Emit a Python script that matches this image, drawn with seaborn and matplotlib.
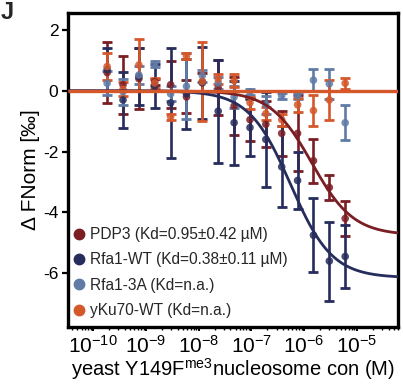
import numpy as np
import pandas as pd
import matplotlib
matplotlib.use("Agg")
import matplotlib.pyplot as plt
import seaborn as sns
from matplotlib.lines import Line2D
from matplotlib.ticker import FixedLocator, LogLocator, LogFormatterSciNotation, NullFormatter

# ---------------- data ----------------
conc_M = [1.83e-10, 3.66e-10, 7.32e-10, 1.46e-9, 2.93e-9, 5.86e-9, 1.17e-8, 2.34e-8,
          4.69e-8, 9.38e-8, 1.875e-7, 3.75e-7, 7.5e-7, 1.5e-6, 3.0e-6, 6.0e-6]
xtick_values = [1e-10, 1e-9, 1e-8, 1e-7, 1e-6, 1e-5]

series_names = ["PDP3", "Rfa1-WT", "Rfa1-3A", "yKu70-WT"]
legend_labels = ["PDP3 (Kd=0.95\u00b10.42 \u00b5M)",
                 "Rfa1-WT (Kd=0.38\u00b10.11 \u00b5M)",
                 "Rfa1-3A (Kd=n.a.)",
                 "yKu70-WT (Kd=n.a.)"]
colors = ["#7A1E24", "#262C5C", "#5F7BA6", "#D5582B"]

pdp3_mean = [0.6, 0.2, 0.4, 0.3, 0.2, -0.2, 0.3, 0.1, -0.5, -0.95, -1.1, -1.4, -1.4, -2.3, -3.18, -4.2]
pdp3_err = [1.0, 0.95, 1.0, 0.1, 0.77, 0.54, 0.3, 0.9, 0.95, 0.7, 0.75, 0.75, 1.25, 0.72, 0.4, 0.57]

wt_mean = [0.7, -0.3, 0.47, 0.15, -0.4, -0.1, 0.26, -0.67, -1.05, -1.21, -1.6, -2.5, -2.95, -4.75, -5.6, -5.45]
wt_err = [0.7, 0.92, 0.94, 0.72, 1.8, 1.15, 1.18, 1.69, 1.38, 0.95, 1.55, 1.33, 0.95, 1.22, 1.3, 1.05]

a3_mean = [0.25, -0.03, 0.52, 0.88, -0.1, 0.15, 0.5, 0.26, -0.2, -0.03, -0.46, -0.16, -0.16, 0.35, 0.23, -1.05]
a3_err = [0.4, 0.43, 0.3, 0.1, 0.25, 1.08, 0.2, 0.2, 0.35, 0.1, 0.3, 0.1, 0.1, 0.37, 0.5, 0.57]

ku_mean = [0.8, 0.05, 0.85, 0.26, -0.85, 1.15, 0.3, 0.39, 0.33, -0.39, -0.75, -0.95, -0.46, -0.65, -0.3, 0.25]
ku_err = [0.45, 0.23, 0.85, 0.17, 0.1, 0.1, 1.3, 0.15, 0.22, 0.2, 0.22, 0.2, 0.23, 0.52, 0.65, 0.18]

# fitted binding curve parameters: (amplitude, midpoint [M], hill)
pdp3_fit = (-4.75, 1.4e-6, 1.1)
wt_fit = (-6.15, 0.55e-6, 1.1)
ku_fit_level = 0.0

means = [pdp3_mean, wt_mean, a3_mean, ku_mean]
errs = [pdp3_err, wt_err, a3_err, ku_err]

# ---------------- style ----------------
sns.set_theme(style="ticks")
plt.rcParams["font.family"] = ["Liberation Sans", "DejaVu Sans"]
plt.rcParams["mathtext.fontset"] = "custom"
plt.rcParams["mathtext.rm"] = "Liberation Sans"
plt.rcParams["mathtext.it"] = "Liberation Sans:italic"
plt.rcParams["mathtext.bf"] = "Liberation Sans:bold"
plt.rcParams["axes.unicode_minus"] = False

fig = plt.figure(figsize=(4.03, 3.84), dpi=100)
ax = fig.add_axes([68 / 403, 1 - 327 / 384, 330 / 403, 314 / 384])

rows = []
for name, m in zip(series_names, means):
    for c, v in zip(conc_M, m):
        rows.append({"conc": c, "value": v, "series": name})
df = pd.DataFrame(rows)

# error bars
for k, (name, m, e, col) in enumerate(zip(series_names, means, errs, colors)):
    ax.errorbar(conc_M, m, yerr=e, fmt="none", ecolor=col, elinewidth=1.9,
                capsize=3.3, capthick=2.0, zorder=2 + k * 0.1)

sns.scatterplot(data=df, x="conc", y="value", hue="series", hue_order=series_names,
                palette=colors, s=30, edgecolor="none", alpha=0.85, legend=False,
                ax=ax, zorder=3)

# fitted curves
xlim = (10 ** -10.48, 10 ** -4.22)
xfit = np.logspace(np.log10(xlim[0]), np.log10(xlim[1]), 300)
curve_rows = []
for name, (A, K, n) in [("PDP3", pdp3_fit), ("Rfa1-WT", wt_fit)]:
    yfit = A / (1 + (K / xfit) ** n)
    for xx, yy in zip(xfit, yfit):
        curve_rows.append({"conc": xx, "value": yy, "series": name})
cdf = pd.DataFrame(curve_rows)
sns.lineplot(data=cdf, x="conc", y="value", hue="series", hue_order=["PDP3", "Rfa1-WT"],
             palette=colors[:2], linewidth=2.0, legend=False, ax=ax, zorder=5)
ax.plot([xlim[0], xlim[1]], [ku_fit_level, ku_fit_level], color=colors[3], lw=2.4,
        zorder=6, solid_capstyle="butt")

# axes
ax.set_xscale("log")
ax.set_xlim(*xlim)
ax.set_ylim(-7.77, 2.56)
ax.set_yticks([2, 0, -2, -4, -6])
ax.xaxis.set_major_locator(FixedLocator(xtick_values))
ax.xaxis.set_major_formatter(LogFormatterSciNotation())
ax.xaxis.set_minor_locator(LogLocator(base=10, subs=np.arange(2, 10), numticks=20))
ax.xaxis.set_minor_formatter(NullFormatter())

for sp in ax.spines.values():
    sp.set_linewidth(2.4)
    sp.set_color("black")
ax.tick_params(axis="y", which="major", length=4, width=1.6, labelsize=12.5, pad=3,
               colors="black")
ax.tick_params(axis="x", which="major", length=3, width=1.4, labelsize=15, pad=3,
               colors="black")
ax.tick_params(axis="x", which="minor", length=2.5, width=1.0, colors="black")

ax.set_xlabel("yeast Y149F$^{\\mathregular{me3}}$nucleosome con (M)", fontsize=14.5,
              labelpad=-0.5, color="black")
ax.set_ylabel("\u0394 FNorm [\u2030]", fontsize=15, labelpad=2, color="black")

handles = [Line2D([0], [0], marker="o", ls="none", color=c, markersize=7.5)
           for c in colors]
ax.legend(handles, legend_labels, loc="upper left", bbox_to_anchor=(0.015, 0.318),
          frameon=False, fontsize=11.2, handlelength=0.8, handletextpad=0.3,
          labelspacing=0.66, borderpad=0, borderaxespad=0)

fig.text(1 / 403, 1 - 1 / 384, "J", fontsize=17, fontweight="bold", ha="left",
         va="top")

fig.savefig("out.png", dpi=100)
